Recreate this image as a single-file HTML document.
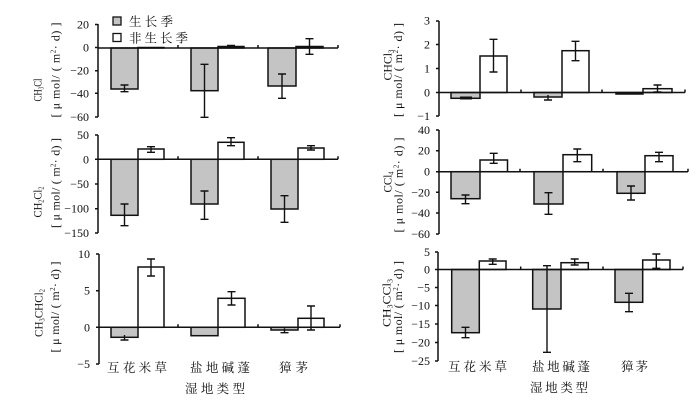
<!DOCTYPE html>
<html><head><meta charset="utf-8"><style>
html,body{margin:0;padding:0;background:#fff;}
svg{display:block;}
.n{font-family:"Liberation Serif",serif;font-size:12px;fill:#111;}
.y{font-family:"Liberation Serif",serif;font-size:12px;fill:#111;}
.c{font-family:"Liberation Serif","Noto Serif CJK SC",serif;font-size:12.5px;fill:#111;}
.g{fill:#c4c4c4;stroke:#111;stroke-width:1.5;}
.w{fill:#fff;stroke:#111;stroke-width:1.5;}
.ax{stroke:#111;stroke-width:1.5;fill:none;}
.e{stroke:#111;stroke-width:1.4;fill:none;}
</style></head><body>
<svg width="700" height="401" viewBox="0 0 700 401" xmlns="http://www.w3.org/2000/svg">
<rect width="700" height="401" fill="#fff"/>

<!-- ===== Panel 1 (CH3Cl) ===== -->
<g>
<rect class="g" x="111" y="48" width="27" height="41"/>
<rect class="w" x="138" y="47.5" width="26" height="0.5"/>
<rect class="g" x="191" y="48" width="27" height="42.7"/>
<rect class="w" x="218" y="46.5" width="26" height="1.5"/>
<rect class="g" x="268" y="48" width="28" height="38"/>
<rect class="w" x="296" y="46.5" width="27" height="1.5"/>
<path class="e" d="M124.5 85V91.7M120.5 85H128.5M120.5 91.7H128.5"/>
<path class="e" d="M204.5 64.3V117.3M200.5 64.3H208.5M200.5 117.3H208.5"/>
<path class="e" d="M231 45.5V48M227 45.5H235"/>
<path class="e" d="M282 74V98.3M278 74H286M278 98.3H286"/>
<path class="e" d="M309.5 38.7V54.3M305.5 38.7H313.5M305.5 54.3H313.5"/>
<path class="ax" d="M98 24V117M95 24.5H98M95 47.5H98M95 70.7H98M95 93.3H98M95 117H98"/>
<path class="ax" d="M98 48H338M178 45V48M258 45V48M338 45V48"/>
<text class="n" text-anchor="end" x="89" y="28.5">20</text>
<text class="n" text-anchor="end" x="89" y="51.5">0</text>
<text class="n" text-anchor="end" x="89" y="74.7">−20</text>
<text class="n" text-anchor="end" x="89" y="97.3">−40</text>
<text class="n" text-anchor="end" x="89" y="121">−60</text>
<text class="y" text-anchor="middle" transform="translate(41.5,90) rotate(-90)" textLength="23" lengthAdjust="spacingAndGlyphs">CH<tspan dy="2" font-size="7">3</tspan><tspan dy="-2">Cl</tspan></text>
<text class="y" text-anchor="middle" transform="translate(59.5,70) rotate(-90)" textLength="95" lengthAdjust="spacing">[ μ mol/ ( m<tspan dy="-4" font-size="7">2</tspan><tspan dy="4">· d) ]</tspan></text>
<!-- legend -->
<rect class="g" x="113" y="17" width="8" height="8" style="stroke-width:1.3"/>
<rect class="w" x="113" y="33.5" width="8" height="8" style="stroke-width:1.3"/>
<text class="c" x="129" y="26" textLength="44" lengthAdjust="spacing">生长季</text>
<text class="c" x="129" y="42.5" textLength="59" lengthAdjust="spacing">非生长季</text>
</g>

<!-- ===== Panel 2 (CH2Cl2) ===== -->
<g>
<rect class="g" x="111" y="159.3" width="27" height="56"/>
<rect class="w" x="138" y="149" width="26" height="10.3"/>
<rect class="g" x="191" y="159.3" width="27" height="44.7"/>
<rect class="w" x="218" y="142.3" width="26" height="17"/>
<rect class="g" x="271" y="159.3" width="27" height="49.7"/>
<rect class="w" x="298" y="148" width="26" height="11.3"/>
<path class="e" d="M124.5 204V225.7M120.5 204H128.5M120.5 225.7H128.5"/>
<path class="e" d="M151 146.7V152.3M147 146.7H155M147 152.3H155"/>
<path class="e" d="M204.5 191V219.3M200.5 191H208.5M200.5 219.3H208.5"/>
<path class="e" d="M231 137.7V145.7M227 137.7H235M227 145.7H235"/>
<path class="e" d="M284.5 195.7V222.3M280.5 195.7H288.5M280.5 222.3H288.5"/>
<path class="e" d="M311 145.7V150M307 145.7H315M307 150H315"/>
<path class="ax" d="M98 135V233M95 135H98M95 159.3H98M95 184H98M95 208.7H98M95 233H98"/>
<path class="ax" d="M98 159.3H338M178 156.3V159.3M258 156.3V159.3M338 156.3V159.3"/>
<text class="n" text-anchor="end" x="89" y="139">50</text>
<text class="n" text-anchor="end" x="89" y="163.3">0</text>
<text class="n" text-anchor="end" x="89" y="188">−50</text>
<text class="n" text-anchor="end" x="89" y="212.7">−100</text>
<text class="n" text-anchor="end" x="89" y="237">−150</text>
<text class="y" text-anchor="middle" transform="translate(41.5,202) rotate(-90)" textLength="31" lengthAdjust="spacingAndGlyphs">CH<tspan dy="2" font-size="7">2</tspan><tspan dy="-2">Cl</tspan><tspan dy="2" font-size="7">2</tspan></text>
<text class="y" text-anchor="middle" transform="translate(59.5,183) rotate(-90)" textLength="90" lengthAdjust="spacing">[ μ mol/ ( m<tspan dy="-4" font-size="7">2</tspan><tspan dy="4">· d) ]</tspan></text>
</g>

<!-- ===== Panel 3 (CH3CHCl2) ===== -->
<g>
<rect class="g" x="111" y="327.3" width="27" height="10"/>
<rect class="w" x="138" y="267" width="26" height="60.3"/>
<rect class="g" x="191" y="327.3" width="27" height="8.4"/>
<rect class="w" x="218" y="298.3" width="27" height="29"/>
<rect class="g" x="271" y="327.3" width="27" height="2.7"/>
<rect class="w" x="298" y="318.3" width="26" height="9"/>
<path class="e" d="M124.5 335V340M120.5 340H128.5"/>
<path class="e" d="M151 259V276M147 259H155M147 276H155"/>
<path class="e" d="M231.5 291.7V305M227.5 291.7H235.5M227.5 305H235.5"/>
<path class="e" d="M284.5 328.3V332.7M280.5 332.7H288.5"/>
<path class="e" d="M311 306V330M307 306H315M307 330H315"/>
<path class="ax" d="M99 254V364M96 254H99M96 290.7H99M96 327.3H99M96 364H99"/>
<path class="ax" d="M99 327.3H340M178 324.3V327.3M258 324.3V327.3M340 324.3V327.3"/>
<text class="n" text-anchor="end" x="90" y="258">10</text>
<text class="n" text-anchor="end" x="90" y="294.7">5</text>
<text class="n" text-anchor="end" x="90" y="331.3">0</text>
<text class="n" text-anchor="end" x="90" y="368">−5</text>
<text class="y" text-anchor="middle" transform="translate(42.5,313) rotate(-90)" textLength="48" lengthAdjust="spacingAndGlyphs">CH<tspan dy="2" font-size="7">3</tspan><tspan dy="-2">CHCl</tspan><tspan dy="2" font-size="7">2</tspan></text>
<text class="y" text-anchor="middle" transform="translate(59,307) rotate(-90)" textLength="91" lengthAdjust="spacing">[ μ mol/ ( m<tspan dy="-4" font-size="7">2</tspan><tspan dy="4">· d) ]</tspan></text>
<text class="c" x="107" y="372" textLength="60" lengthAdjust="spacing">互花米草</text>
<text class="c" x="190" y="372" textLength="60" lengthAdjust="spacing">盐地碱蓬</text>
<text class="c" x="279" y="372" textLength="29" lengthAdjust="spacing">獐茅</text>
<text class="c" x="185" y="393" textLength="60" lengthAdjust="spacing">湿地类型</text>
</g>

<!-- ===== Panel 4 (CHCl3) ===== -->
<g>
<rect class="g" x="451" y="92.5" width="29" height="5.8"/>
<rect class="w" x="480" y="56" width="27" height="36.5"/>
<rect class="g" x="534" y="92.5" width="28" height="4.5"/>
<rect class="w" x="562" y="50.7" width="27" height="41.8"/>
<rect class="g" x="616" y="92.5" width="27" height="1.5"/>
<rect class="w" x="643" y="88.7" width="29" height="3.8"/>
<path d="M460 96.5H472V99.5H460Z" fill="#111"/>
<path class="e" d="M493.5 39.3V72M489.5 39.3H497.5M489.5 72H497.5"/>
<path class="e" d="M548 95V100M544 100H552"/>
<path class="e" d="M575.5 41.3V60.7M571.5 41.3H579.5M571.5 60.7H579.5"/>
<path class="e" d="M657.5 85V92M653.5 85H661.5M653.5 92H661.5"/>
<path class="ax" d="M439 21V116M436 21H439M436 44.5H439M436 68.5H439M436 92.5H439M436 116H439"/>
<path class="ax" d="M439 92.5H685M521 89.5V92.5M602 89.5V92.5M685 89.5V92.5"/>
<text class="n" text-anchor="end" x="430" y="24.7">3</text>
<text class="n" text-anchor="end" x="430" y="48.5">2</text>
<text class="n" text-anchor="end" x="430" y="72.5">1</text>
<text class="n" text-anchor="end" x="430" y="96.5">0</text>
<text class="n" text-anchor="end" x="430" y="120">−1</text>
<text class="y" text-anchor="middle" transform="translate(391.5,65) rotate(-90)" textLength="31" lengthAdjust="spacingAndGlyphs">CHCl<tspan dy="2" font-size="7">3</tspan></text>
<text class="y" text-anchor="middle" transform="translate(402,70) rotate(-90)" textLength="94" lengthAdjust="spacing">[ μ mol/ ( m<tspan dy="-4" font-size="7">2</tspan><tspan dy="4">· d) ]</tspan></text>
</g>

<!-- ===== Panel 5 (CCl4) ===== -->
<g>
<rect class="g" x="451" y="171.7" width="29" height="27"/>
<rect class="w" x="480" y="160" width="27.5" height="11.7"/>
<rect class="g" x="534" y="171.7" width="29" height="32.3"/>
<rect class="w" x="563" y="154.7" width="28.7" height="17"/>
<rect class="g" x="617" y="171.7" width="28" height="21.6"/>
<rect class="w" x="645" y="155.7" width="28" height="16"/>
<path class="e" d="M465.5 195V203.7M461.5 195H469.5M461.5 203.7H469.5"/>
<path class="e" d="M493.7 153.3V163.3M489.7 153.3H497.7M489.7 163.3H497.7"/>
<path class="e" d="M548.5 192.7V214.3M544.5 192.7H552.5M544.5 214.3H552.5"/>
<path class="e" d="M577.3 149V161.7M573.3 149H581.3M573.3 161.7H581.3"/>
<path class="e" d="M631 186V200M627 186H635M627 200H635"/>
<path class="e" d="M659 152.3V161.7M655 152.3H663M655 161.7H663"/>
<path class="ax" d="M439 130V234M436 130H439M436 150.7H439M436 171.7H439M436 192.3H439M436 213H439M436 234H439"/>
<path class="ax" d="M439 171.7H688M520 168.7V171.7M603 168.7V171.7M688 168.7V171.7"/>
<text class="n" text-anchor="end" x="430" y="134">40</text>
<text class="n" text-anchor="end" x="430" y="154.7">20</text>
<text class="n" text-anchor="end" x="430" y="175.7">0</text>
<text class="n" text-anchor="end" x="430" y="196.3">−20</text>
<text class="n" text-anchor="end" x="430" y="217">−40</text>
<text class="n" text-anchor="end" x="430" y="238">−60</text>
<text class="y" text-anchor="middle" transform="translate(391.5,182) rotate(-90)" textLength="21" lengthAdjust="spacingAndGlyphs">CCl<tspan dy="2" font-size="7">4</tspan></text>
<text class="y" text-anchor="middle" transform="translate(402.5,185) rotate(-90)" textLength="95" lengthAdjust="spacing">[ μ mol/ ( m<tspan dy="-4" font-size="7">2</tspan><tspan dy="4">· d) ]</tspan></text>
</g>

<!-- ===== Panel 6 (CH3CCl3) ===== -->
<g>
<rect class="g" x="451.7" y="269.5" width="27.6" height="63.2"/>
<rect class="w" x="479.3" y="261" width="26.7" height="8.5"/>
<rect class="g" x="532.7" y="269.5" width="28.3" height="39.5"/>
<rect class="w" x="561" y="262.7" width="27.3" height="6.8"/>
<rect class="g" x="615" y="269.5" width="27.7" height="32.8"/>
<rect class="w" x="642.7" y="260" width="27.3" height="9.5"/>
<path class="e" d="M465.5 327.3V337.7M461.5 327.3H469.5M461.5 337.7H469.5"/>
<path class="e" d="M492.7 259V264.3M488.7 259H496.7M488.7 264.3H496.7"/>
<path class="e" d="M547 265.7V352.3M543 265.7H551M543 352.3H551"/>
<path class="e" d="M574.7 259V265M570.7 259H578.7M570.7 265H578.7"/>
<path class="e" d="M629 293.3V311.7M625 293.3H633M625 311.7H633"/>
<path class="e" d="M656.3 254V268.3M652.3 254H660.3M652.3 268.3H660.3"/>
<path class="ax" d="M438 252V361M435 252H438M435 269.5H438M435 287.5H438M435 305.5H438M435 324H438M435 342.5H438M435 361H438"/>
<path class="ax" d="M438 269.5H683M520.7 266.5V269.5M603 266.5V269.5M683 266.5V269.5"/>
<text class="n" text-anchor="end" x="430" y="256">5</text>
<text class="n" text-anchor="end" x="430" y="273.5">0</text>
<text class="n" text-anchor="end" x="430" y="291.5">−5</text>
<text class="n" text-anchor="end" x="430" y="309.5">−10</text>
<text class="n" text-anchor="end" x="430" y="328">−15</text>
<text class="n" text-anchor="end" x="430" y="346.5">−20</text>
<text class="n" text-anchor="end" x="430" y="365">−25</text>
<text class="y" text-anchor="middle" transform="translate(390.5,303) rotate(-90)" textLength="48" lengthAdjust="spacingAndGlyphs">CH<tspan dy="2" font-size="7">3</tspan><tspan dy="-2">CCl</tspan><tspan dy="2" font-size="7">3</tspan></text>
<text class="y" text-anchor="middle" transform="translate(402,307) rotate(-90)" textLength="92" lengthAdjust="spacing">[ μ mol/ ( m<tspan dy="-4" font-size="7">2</tspan><tspan dy="4">· d) ]</tspan></text>
<text class="c" x="448" y="371" textLength="59" lengthAdjust="spacing">互花米草</text>
<text class="c" x="532" y="371" textLength="58" lengthAdjust="spacing">盐地碱蓬</text>
<text class="c" x="621" y="371" textLength="27" lengthAdjust="spacing">獐茅</text>
<text class="c" x="530" y="392" textLength="58" lengthAdjust="spacing">湿地类型</text>
</g>
</svg>
</body></html>
